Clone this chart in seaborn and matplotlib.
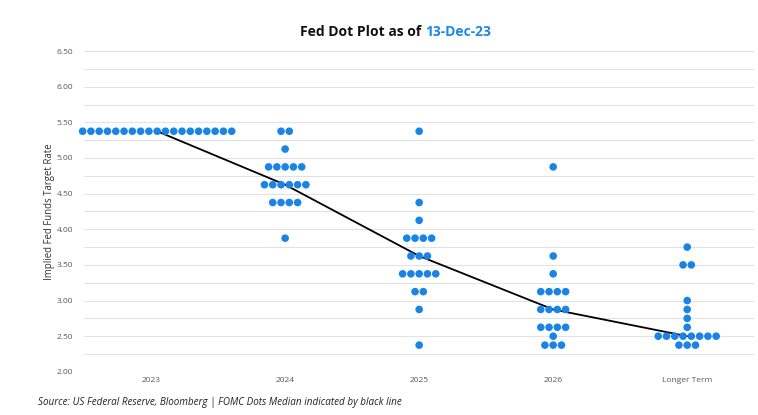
import numpy as np
import pandas as pd
import matplotlib.pyplot as plt
import seaborn as sns

# FOMC dot plot, Dec 2023 (rate level -> number of dots)
categories = ["2023", "2024", "2025", "2026", "Longer Term"]
dots_2023 = {5.375: 19}
dots_2024 = {5.375: 2, 5.125: 1, 4.875: 5, 4.625: 6, 4.375: 4, 3.875: 1}
dots_2025 = {5.375: 1, 4.375: 1, 4.125: 1, 3.875: 4, 3.625: 3, 3.375: 5,
             3.125: 2, 2.875: 1, 2.375: 1}
dots_2026 = {4.875: 1, 3.625: 1, 3.375: 1, 3.125: 4, 2.875: 4, 2.625: 4,
             2.5: 1, 2.375: 3}
dots_longer = {3.75: 1, 3.5: 2, 3.0: 1, 2.875: 1, 2.75: 1, 2.625: 1,
               2.5: 8, 2.375: 3}
medians = [5.375, 4.625, 3.625, 2.875, 2.5]

all_dots = [dots_2023, dots_2024, dots_2025, dots_2026, dots_longer]

# the first column sits a touch right of its label in the original
col_shift = [0.045, 0, 0, 0, 0]

# build long table, spreading dots that share a level side by side
step = 0.0618
rows = []
for i, d in enumerate(all_dots):
    for rate, n in d.items():
        for j in range(n):
            rows.append({"x": i + col_shift[i] + (j - (n - 1) / 2) * step,
                         "rate": rate})
df = pd.DataFrame(rows)
line_x = [i + col_shift[i] for i in range(len(categories))]

sns.set_style("white")
plt.rcParams['font.family'] = ['Open Sans', 'DejaVu Sans']

fig = plt.figure(figsize=(7.58, 4.15), dpi=100)
ax = fig.add_axes([0.111, 0.104, 0.884, 0.773])

ax.set_yticks(np.arange(2.0, 6.51, 0.25), minor=True)
ax.set_yticks(np.arange(2.0, 6.51, 0.5))
ax.grid(which="both", axis="y", color="#DCDCDC", linewidth=0.6)
ax.set_axisbelow(True)

sns.lineplot(x=line_x, y=medians, color="black",
             linewidth=1.3, ax=ax, zorder=2)
sns.scatterplot(data=df, x="x", y="rate", color="#1A84E6", s=30,
                edgecolor="none", ax=ax, zorder=3, clip_on=False)

ax.set_xlim(-0.5, 4.5)
ax.set_ylim(2.0, 6.5)
ax.set_xticks(range(len(categories)))
ax.set_xticklabels(categories)
ax.set_yticklabels([f"{v:.2f}" for v in np.arange(2.0, 6.51, 0.5)])
ax.tick_params(axis="both", which="both", length=0, labelsize=6,
               labelcolor="#595959")
ax.tick_params(axis="y", pad=8)
ax.set_xlabel("")
ax.set_ylabel("Implied Fed Funds Target Rate", fontsize=6.9, color="#333333",
              labelpad=1)
for s in ax.spines.values():
    s.set_visible(False)

fig.text(0.561, 0.923, "Fed Dot Plot as of ", ha="right", va="center",
         fontsize=10, fontweight="bold", color="#111111")
fig.text(0.561, 0.923, "13-Dec-23", ha="left", va="center",
         fontsize=10, fontweight="bold", color="#1E88E5")

fig.text(0.05, 0.031,
         "Source: US Federal Reserve, Bloomberg | FOMC Dots Median indicated by black line",
         ha="left", va="center", fontsize=7.1, style="italic", color="#222222")

fig.savefig("out.png", dpi=100)
